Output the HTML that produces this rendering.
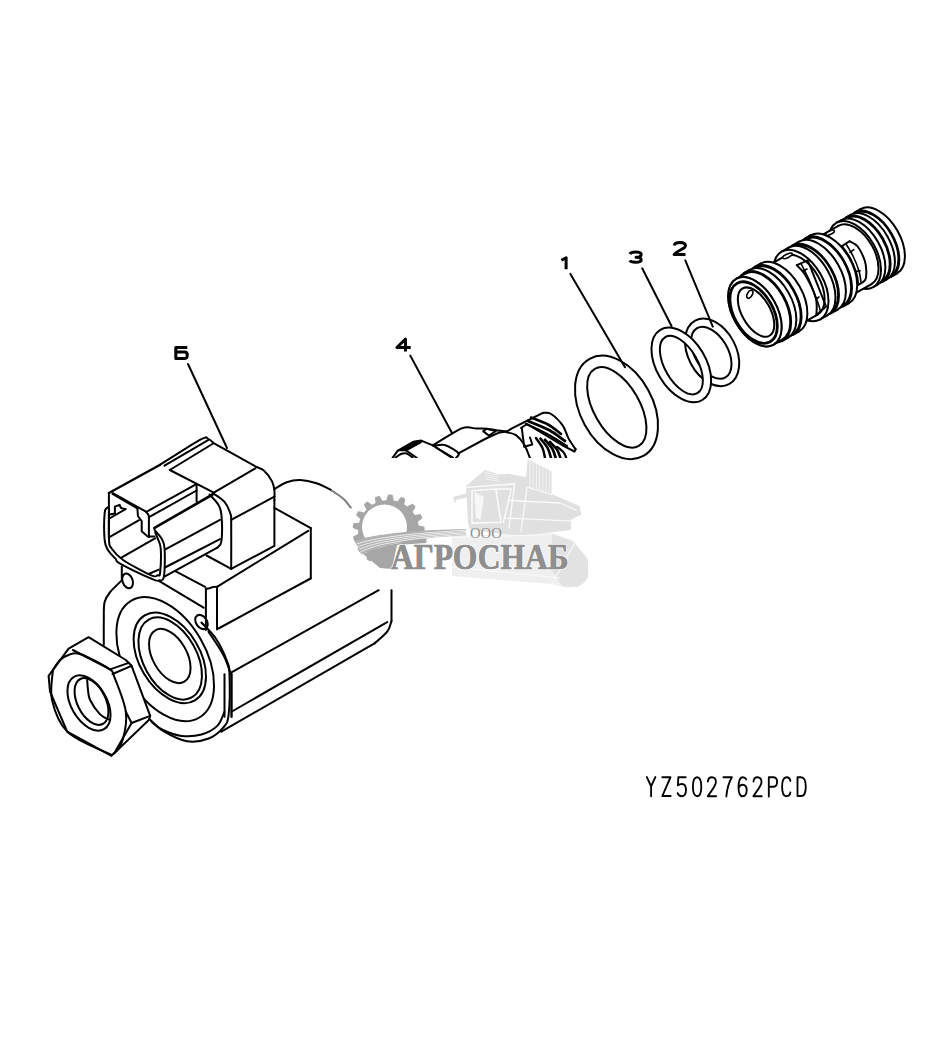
<!DOCTYPE html>
<html><head><meta charset="utf-8"><style>
html,body{margin:0;padding:0;background:#fff;}
svg{display:block;}
</style></head><body>
<svg width="940" height="1049" viewBox="0 0 940 1049" stroke="#000" stroke-linecap="round" stroke-linejoin="round">
<path d="M187.3,347.5 L175.8,347.5 L175.8,358.4 L184.8,358.4 C186.8,358.4 187.3,356.9 187.3,355.239 C187.3,353.27799999999996 186.5,352.078 184.8,352.078 L175.8,352.078" fill="none" stroke-width="3.0" stroke-linecap="butt" stroke-linejoin="round"/>
<path d="M405.45599999999996,351.5 L405.45599999999996,339.0 L396.9,347.5 L410.7,347.5" fill="none" stroke-width="3.0" stroke-linecap="butt" stroke-linejoin="round"/>
<path d="M561.4,260.3 L566.1,257.8 L566.1,269.2" fill="none" stroke-width="3.0" stroke-linecap="butt" stroke-linejoin="round"/>
<path d="M629.9,253.9 C630.9,252.1 632.9,252.1 635.55,252.1 C639.2,252.1 641.2,252.6 641.2,254.4 C641.2,256.65 639.2,257.15 636.05,257.15 C639.2,257.15 641.2,257.75 641.2,259.9 C641.2,261.7 639.2,262.2 635.55,262.2 C632.9,262.2 630.6999999999999,262.2 629.9,260.4" fill="none" stroke-width="3.0" stroke-linecap="butt" stroke-linejoin="round"/>
<path d="M674.2,245.5 C674.7,243.0 677.2,242.5 679.85,242.5 C683.5,242.5 685.5,243.3 685.5,245.7 C685.5,249.0 677.2,250.0 674.2,254.60000000000002 L685.5,254.60000000000002" fill="none" stroke-width="3.0" stroke-linecap="butt" stroke-linejoin="round"/>
<path d="M188.0,364.0 L227.0,448.0" fill="none" stroke-width="2.0" />
<path d="M410.3,355.6 L452.0,433.0" fill="none" stroke-width="2.0" />
<path d="M570.4,273.9 L625.0,367.2" fill="none" stroke-width="2.0" />
<path d="M642.2,268.3 L671.6,326.2" fill="none" stroke-width="2.0" />
<path d="M685.3,260.3 L712.8,326.6" fill="none" stroke-width="2.0" />
<ellipse cx="712.1" cy="352.4" rx="36.0" ry="24.0" transform="rotate(62.0 712.1 352.4)" fill="none" stroke-width="2.0" />
<ellipse cx="711.3" cy="352.8" rx="28.4" ry="16.6" transform="rotate(60 711.3 352.8)" fill="none" stroke-width="2.0"/>
<path d="M702.30,400.00 A40.90,24.68 59.11 1 1 660.30,329.80 A40.90,24.68 59.11 1 1 702.30,400.00 Z M697.37,393.16 A32.31,16.51 60.27 1 1 665.33,337.04 A32.31,16.51 60.27 1 1 697.37,393.16 Z" fill="#fff" fill-rule="evenodd" stroke-width="2.0"/>
<ellipse cx="616.5" cy="407.4" rx="55.5" ry="36.2" transform="rotate(61.1 616.5 407.4)" fill="none" stroke-width="2.0" />
<ellipse cx="616.8" cy="407.4" rx="44.4" ry="22.9" transform="rotate(60.3 616.8 407.4)" fill="none" stroke-width="2.0" />
<ellipse cx="878.80" cy="241.31" rx="37.00" ry="21.46" transform="rotate(60.40 878.80 241.31)" fill="#fff" stroke-width="2.0"/>
<path d="M854.88,212.35 L860.53,209.14 L897.08,273.48 L891.43,276.70 Z" fill="#fff" stroke="none"/>
<path d="M854.88,212.35 L860.53,209.14" fill="none" stroke-width="2.0"/>
<path d="M891.43,276.70 L897.08,273.48" fill="none" stroke-width="2.0"/>
<ellipse cx="873.15" cy="244.52" rx="37.00" ry="21.46" transform="rotate(60.40 873.15 244.52)" fill="#fff" stroke-width="2.0"/>
<ellipse cx="873.15" cy="244.52" rx="35.80" ry="20.76" transform="rotate(60.40 873.15 244.52)" fill="#fff" stroke-width="2.0"/>
<path d="M851.12,215.87 L855.47,213.40 L890.83,275.65 L886.49,278.12 Z" fill="#fff" stroke="none"/>
<path d="M851.12,215.87 L855.47,213.40" fill="none" stroke-width="2.0"/>
<path d="M886.49,278.12 L890.83,275.65" fill="none" stroke-width="2.0"/>
<ellipse cx="868.80" cy="246.99" rx="35.80" ry="20.76" transform="rotate(60.40 868.80 246.99)" fill="#fff" stroke-width="2.0"/>
<ellipse cx="868.80" cy="246.99" rx="37.00" ry="21.46" transform="rotate(60.40 868.80 246.99)" fill="#fff" stroke-width="2.0"/>
<path d="M846.18,217.29 L850.53,214.82 L887.08,279.16 L882.73,281.63 Z" fill="#fff" stroke="none"/>
<path d="M846.18,217.29 L850.53,214.82" fill="none" stroke-width="2.0"/>
<path d="M882.73,281.63 L887.08,279.16" fill="none" stroke-width="2.0"/>
<ellipse cx="864.46" cy="249.46" rx="37.00" ry="21.46" transform="rotate(60.40 864.46 249.46)" fill="#fff" stroke-width="2.0"/>
<ellipse cx="864.46" cy="249.46" rx="35.80" ry="20.76" transform="rotate(60.40 864.46 249.46)" fill="#fff" stroke-width="2.0"/>
<path d="M841.56,221.30 L846.77,218.34 L882.14,280.59 L876.92,283.55 Z" fill="#fff" stroke="none"/>
<path d="M841.56,221.30 L846.77,218.34" fill="none" stroke-width="2.0"/>
<path d="M876.92,283.55 L882.14,280.59" fill="none" stroke-width="2.0"/>
<ellipse cx="859.24" cy="252.43" rx="35.80" ry="20.76" transform="rotate(60.40 859.24 252.43)" fill="#fff" stroke-width="2.0"/>
<ellipse cx="859.24" cy="252.43" rx="37.00" ry="21.46" transform="rotate(60.40 859.24 252.43)" fill="#fff" stroke-width="2.0"/>
<path d="M836.62,222.73 L840.96,220.26 L877.52,284.60 L873.17,287.07 Z" fill="#fff" stroke="none"/>
<path d="M836.62,222.73 L840.96,220.26" fill="none" stroke-width="2.0"/>
<path d="M873.17,287.07 L877.52,284.60" fill="none" stroke-width="2.0"/>
<ellipse cx="854.89" cy="254.90" rx="37.00" ry="21.46" transform="rotate(60.40 854.89 254.90)" fill="#fff" stroke-width="2.0"/>
<ellipse cx="854.89" cy="254.90" rx="33.50" ry="19.43" transform="rotate(60.40 854.89 254.90)" fill="#fff" stroke-width="2.0"/>
<path d="M813.13,240.09 L838.34,225.77 L871.44,284.02 L846.22,298.35 Z" fill="#fff" stroke="none"/>
<path d="M813.13,240.09 L838.34,225.77" fill="none" stroke-width="2.0"/>
<path d="M846.22,298.35 L871.44,284.02" fill="none" stroke-width="2.0"/>
<ellipse cx="829.68" cy="269.22" rx="33.50" ry="19.43" transform="rotate(60.40 829.68 269.22)" fill="#fff" stroke-width="2.0"/>
<ellipse cx="830" cy="232.8" rx="4.8" ry="1.7" transform="rotate(-25 830 232.8)" fill="#fff" stroke-width="1.6"/>
<path d="M842.0,246.0 L849.7,241.2" fill="none" stroke-width="2.0"/>
<path d="M849.7,241.2 C851.0,242.1 855.2,243.3 857.7,246.5 C860.2,249.7 863.3,256.5 864.7,260.5 C866.1,264.5 866.2,267.5 866.3,270.7 C866.4,273.9 866.6,277.3 865.3,279.7 C864.0,282.1 859.5,283.9 858.3,284.8" fill="none" stroke-width="2.0"/>
<path d="M842.0,246.0 C843.3,248.0 847.6,253.4 850.0,258.0 C852.4,262.6 855.0,268.8 856.4,273.3 C857.8,277.8 858.0,282.9 858.3,284.8" fill="none" stroke-width="2.0"/>
<path d="M846.0,244.0 C847.2,246.0 850.8,251.5 853.0,256.0 C855.2,260.5 857.7,266.7 859.0,271.0 C860.3,275.3 860.7,280.2 861.0,282.0" fill="none" stroke-width="1.6"/>
<path d="M850.0,252.3 L853.8,249.7" fill="none" stroke-width="1.6"/>
<path d="M856.4,271.4 L860.2,270.7" fill="none" stroke-width="1.6"/>
<ellipse cx="829.68" cy="269.22" rx="39.00" ry="22.62" transform="rotate(60.40 829.68 269.22)" fill="#fff" stroke-width="2.0"/>
<path d="M805.20,238.27 L810.41,235.31 L848.94,303.13 L843.72,306.09 Z" fill="#fff" stroke="none"/>
<path d="M805.20,238.27 L810.41,235.31" fill="none" stroke-width="2.0"/>
<path d="M843.72,306.09 L848.94,303.13" fill="none" stroke-width="2.0"/>
<ellipse cx="824.46" cy="272.18" rx="39.00" ry="22.62" transform="rotate(60.40 824.46 272.18)" fill="#fff" stroke-width="2.0"/>
<ellipse cx="824.46" cy="272.18" rx="37.80" ry="21.92" transform="rotate(60.40 824.46 272.18)" fill="#fff" stroke-width="2.0"/>
<path d="M799.70,242.78 L805.79,239.32 L843.13,305.05 L837.04,308.51 Z" fill="#fff" stroke="none"/>
<path d="M799.70,242.78 L805.79,239.32" fill="none" stroke-width="2.0"/>
<path d="M837.04,308.51 L843.13,305.05" fill="none" stroke-width="2.0"/>
<ellipse cx="818.37" cy="275.64" rx="37.80" ry="21.92" transform="rotate(60.40 818.37 275.64)" fill="#fff" stroke-width="2.0"/>
<ellipse cx="818.37" cy="275.64" rx="39.00" ry="22.62" transform="rotate(60.40 818.37 275.64)" fill="#fff" stroke-width="2.0"/>
<path d="M792.15,245.68 L799.11,241.73 L837.64,309.55 L830.68,313.50 Z" fill="#fff" stroke="none"/>
<path d="M792.15,245.68 L799.11,241.73" fill="none" stroke-width="2.0"/>
<path d="M830.68,313.50 L837.64,309.55" fill="none" stroke-width="2.0"/>
<ellipse cx="811.42" cy="279.59" rx="39.00" ry="22.62" transform="rotate(60.40 811.42 279.59)" fill="#fff" stroke-width="2.0"/>
<ellipse cx="811.42" cy="279.59" rx="37.80" ry="21.92" transform="rotate(60.40 811.42 279.59)" fill="#fff" stroke-width="2.0"/>
<path d="M789.27,248.70 L792.75,246.73 L830.09,312.46 L826.61,314.44 Z" fill="#fff" stroke="none"/>
<path d="M789.27,248.70 L792.75,246.73" fill="none" stroke-width="2.0"/>
<path d="M826.61,314.44 L830.09,312.46" fill="none" stroke-width="2.0"/>
<ellipse cx="807.94" cy="281.57" rx="37.80" ry="21.92" transform="rotate(60.40 807.94 281.57)" fill="#fff" stroke-width="2.0"/>
<ellipse cx="807.94" cy="281.57" rx="39.00" ry="22.62" transform="rotate(60.40 807.94 281.57)" fill="#fff" stroke-width="2.0"/>
<path d="M781.72,251.61 L788.68,247.66 L827.20,315.48 L820.25,319.43 Z" fill="#fff" stroke="none"/>
<path d="M781.72,251.61 L788.68,247.66" fill="none" stroke-width="2.0"/>
<path d="M820.25,319.43 L827.20,315.48" fill="none" stroke-width="2.0"/>
<ellipse cx="800.98" cy="285.52" rx="39.00" ry="22.62" transform="rotate(60.40 800.98 285.52)" fill="#fff" stroke-width="2.0"/>
<ellipse cx="800.98" cy="285.52" rx="33.50" ry="19.43" transform="rotate(60.40 800.98 285.52)" fill="#fff" stroke-width="2.0"/>
<path d="M763.31,268.40 L784.44,256.39 L817.53,314.65 L796.40,326.65 Z" fill="#fff" stroke="none"/>
<path d="M763.31,268.40 L784.44,256.39" fill="none" stroke-width="2.0"/>
<path d="M796.40,326.65 L817.53,314.65" fill="none" stroke-width="2.0"/>
<ellipse cx="779.85" cy="297.52" rx="33.50" ry="19.43" transform="rotate(60.40 779.85 297.52)" fill="#fff" stroke-width="2.0"/>
<ellipse cx="787.5" cy="255.8" rx="5.2" ry="1.8" transform="rotate(-25 787.5 255.8)" fill="#fff" stroke-width="1.6"/>
<path d="M796.8,265.2 C798.2,266.8 801.8,269.1 805.0,274.6 C808.2,280.1 813.9,291.5 815.8,298.2 C817.7,304.9 816.3,312.2 816.4,315.0" fill="none" stroke-width="2.0"/>
<path d="M796.8,265.2 L807.8,260.4 L826.1,306.5 L816.4,315.0" fill="none" stroke-width="2.0"/>
<path d="M801.0,263.5 C802.5,266.6 807.2,275.4 810.0,282.0 C812.8,288.6 816.2,298.1 818.0,303.0 C819.8,307.9 820.1,310.1 820.5,311.5" fill="none" stroke-width="1.6"/>
<path d="M803.0,271.0 L807.0,269.0" fill="none" stroke-width="1.6"/>
<path d="M816.0,299.0 L819.0,297.0" fill="none" stroke-width="1.6"/>
<ellipse cx="779.85" cy="297.52" rx="39.00" ry="22.62" transform="rotate(60.40 779.85 297.52)" fill="#fff" stroke-width="2.0"/>
<path d="M754.77,266.92 L760.59,263.61 L799.12,331.43 L793.29,334.74 Z" fill="#fff" stroke="none"/>
<path d="M754.77,266.92 L760.59,263.61" fill="none" stroke-width="2.0"/>
<path d="M793.29,334.74 L799.12,331.43" fill="none" stroke-width="2.0"/>
<ellipse cx="774.03" cy="300.83" rx="39.00" ry="22.62" transform="rotate(60.40 774.03 300.83)" fill="#fff" stroke-width="2.0"/>
<ellipse cx="774.03" cy="300.83" rx="37.80" ry="21.92" transform="rotate(60.40 774.03 300.83)" fill="#fff" stroke-width="2.0"/>
<path d="M750.14,270.93 L755.36,267.97 L792.70,333.70 L787.48,336.66 Z" fill="#fff" stroke="none"/>
<path d="M750.14,270.93 L755.36,267.97" fill="none" stroke-width="2.0"/>
<path d="M787.48,336.66 L792.70,333.70" fill="none" stroke-width="2.0"/>
<ellipse cx="768.81" cy="303.80" rx="37.80" ry="21.92" transform="rotate(60.40 768.81 303.80)" fill="#fff" stroke-width="2.0"/>
<ellipse cx="768.81" cy="303.80" rx="39.00" ry="22.62" transform="rotate(60.40 768.81 303.80)" fill="#fff" stroke-width="2.0"/>
<path d="M744.33,272.85 L749.55,269.89 L788.08,337.71 L782.86,340.67 Z" fill="#fff" stroke="none"/>
<path d="M744.33,272.85 L749.55,269.89" fill="none" stroke-width="2.0"/>
<path d="M782.86,340.67 L788.08,337.71" fill="none" stroke-width="2.0"/>
<ellipse cx="763.59" cy="306.76" rx="39.00" ry="22.62" transform="rotate(60.40 763.59 306.76)" fill="#fff" stroke-width="2.0"/>
<ellipse cx="763.59" cy="306.76" rx="37.80" ry="21.92" transform="rotate(60.40 763.59 306.76)" fill="#fff" stroke-width="2.0"/>
<path d="M736.23,278.83 L744.92,273.89 L782.27,339.63 L773.57,344.57 Z" fill="#fff" stroke="none"/>
<path d="M736.23,278.83 L744.92,273.89" fill="none" stroke-width="2.0"/>
<path d="M773.57,344.57 L782.27,339.63" fill="none" stroke-width="2.0"/>
<ellipse cx="754.90" cy="311.70" rx="37.80" ry="21.92" transform="rotate(60.40 754.90 311.70)" fill="#fff" stroke-width="2.0"/>
<ellipse cx="754.90" cy="311.70" rx="37.80" ry="21.92" transform="rotate(60.40 754.90 311.70)" fill="#fff" stroke-width="2.0"/>
<ellipse cx="753.6" cy="312.6" rx="33.6" ry="19.49" transform="rotate(60.40 753.6 312.6)" fill="none" stroke-width="2.8"/>
<ellipse cx="756.05" cy="312.1" rx="27.2" ry="14.14" transform="rotate(60.40 756.05 312.1)" fill="none" stroke-width="2.0"/>
<ellipse cx="749.8" cy="294.3" rx="2.4" ry="4.3" transform="rotate(30 749.8 294.3)" fill="none" stroke-width="1.6"/>
<path d="M160.2,464.7 C166.9,460.5 192.4,443.9 200.4,439.6 C208.4,435.3 206.0,438.4 208.1,438.9 C210.2,439.4 212.3,442.1 213.2,442.8" fill="none" stroke-width="2.0"/>
<path d="M213.2,442.8 L256.6,467.0" fill="none" stroke-width="2.0"/>
<path d="M256.6,467.0 C257.9,467.6 261.8,468.5 264.3,470.9 C266.9,473.2 270.2,477.9 271.9,481.1 C273.6,484.3 274.0,486.9 274.4,490.0 C274.8,493.1 274.4,498.3 274.4,500.0" fill="none" stroke-width="2.0"/>
<path d="M274.4,500.0 L274.4,545.9 L231.2,568.9" fill="none" stroke-width="2.0"/>
<path d="M213.8,492.6 L255.3,468.3" fill="none" stroke-width="2.0"/>
<path d="M231.2,519.8 L274.4,496.7" fill="none" stroke-width="2.0"/>
<path d="M212.6,493.0 C214.6,494.5 221.5,498.4 224.5,501.9 C227.5,505.4 229.3,510.3 230.4,513.8 C231.5,517.3 231.1,513.6 231.2,522.8 C231.3,532.0 231.2,561.2 231.2,568.9" fill="none" stroke-width="2.0"/>
<path d="M164.5,465.7 L208.1,440.2" fill="none" stroke-width="2.0"/>
<path d="M169.8,470.0 L213.2,443.5" fill="none" stroke-width="2.0"/>
<path d="M169.8,470.0 L213.8,492.6" fill="none" stroke-width="2.0"/>
<path d="M108.9,493.0 L160.2,464.7" fill="none" stroke-width="2.4"/>
<path d="M112.8,493.0 L146.0,511.7" fill="none" stroke-width="2.0"/>
<path d="M146.0,511.7 C146.4,512.3 148.0,514.1 148.5,515.1 C149.0,516.1 148.8,517.3 148.9,517.7" fill="none" stroke-width="2.0"/>
<path d="M148.9,517.7 L148.9,537.2" fill="none" stroke-width="2.0"/>
<path d="M146.4,511.8 L196.4,484.2" fill="none" stroke-width="2.0"/>
<path d="M149.0,517.2 L196.6,490.5" fill="none" stroke-width="2.0"/>
<path d="M196.6,484.9 L196.6,501.5" fill="none" stroke-width="2.0"/>
<path d="M108.9,493.0 L108.9,537.2" fill="none" stroke-width="2.0"/>
<path d="M112.5,494.0 L137.4,508.3 L137.9,516.0 L141.7,521.0 L141.7,531.3 L147.7,536.4 L154.5,536.4" fill="none" stroke-width="2.0"/>
<path d="M109.5,514.5 L114.9,513.5 L114.9,506.6 L119.6,504.9 L121.0,508.0 L125.5,509.1" fill="none" stroke-width="2.0"/>
<path d="M109.4,518.5 L125.5,509.1" fill="none" stroke-width="2.0"/>
<path d="M109.4,537.2 L139.1,520.2" fill="none" stroke-width="2.0"/>
<path d="M107.7,507.4 C107.2,508.3 105.2,507.2 104.7,512.6 C104.2,518.0 104.1,533.4 104.6,539.6 C105.1,545.8 106.0,546.6 107.8,549.8 C109.6,553.0 113.3,556.4 115.4,558.7 C117.5,561.0 114.3,560.4 120.5,563.8 C126.7,567.2 146.0,576.4 152.4,579.2 C158.8,582.0 156.9,580.8 158.8,580.4 C160.7,580.0 162.9,581.9 163.9,576.6 C164.9,571.3 165.0,554.9 164.6,548.5 C164.2,542.1 163.0,541.3 161.4,538.3 C159.8,535.3 156.2,532.3 155.0,530.6 C153.8,528.9 154.6,528.4 154.5,527.9" fill="none" stroke-width="2.0"/>
<path d="M109.0,508.9 C109.0,514.0 108.6,533.0 109.0,539.6 C109.4,546.2 109.2,545.1 111.6,548.5 C113.9,551.9 116.5,555.5 123.1,560.0 C129.7,564.5 145.4,572.8 151.2,575.3 C156.9,577.8 156.1,575.7 157.6,575.3 C159.1,574.9 159.6,577.3 160.1,572.8 C160.6,568.3 161.1,554.2 160.7,548.5 C160.3,542.8 158.5,540.9 157.6,538.3 C156.7,535.6 155.7,533.5 155.3,532.6" fill="none" stroke-width="2.0"/>
<path d="M121.8,557.4 L155.0,538.3" fill="none" stroke-width="2.0"/>
<path d="M148.6,574.0 L158.8,569.6" fill="none" stroke-width="2.0"/>
<path d="M154.5,527.9 L212.6,494.5" fill="none" stroke-width="2.6"/>
<path d="M164.9,549.6 L220.0,519.8" fill="none" stroke-width="2.0"/>
<path d="M164.9,567.5 L220.0,539.2" fill="none" stroke-width="2.0"/>
<path d="M164.9,576.4 L217.8,547.3" fill="none" stroke-width="2.0"/>
<path d="M209.6,494.5 C211.1,496.2 216.5,501.4 218.5,504.9 C220.5,508.4 221.0,509.3 221.5,515.3 C222.0,521.2 222.1,535.3 221.5,540.6 C220.9,545.9 218.4,546.2 217.8,547.3" fill="none" stroke-width="2.0"/>
<path d="M206.6,555.5 L231.2,568.9" fill="none" stroke-width="2.0"/>
<path d="M175.3,571.2 L205.1,586.8" fill="none" stroke-width="2.0"/>
<path d="M158.9,580.9 L203.6,607.7" fill="none" stroke-width="2.0"/>
<path d="M205.9,588.3 L205.9,630.0" fill="none" stroke-width="2.0"/>
<path d="M205.9,589.0 C206.5,588.9 208.4,588.6 209.6,588.3 C210.8,588.0 211.8,587.2 213.0,587.0 C214.2,586.8 216.3,586.8 217.0,586.8" fill="none" stroke-width="2.0"/>
<path d="M217.0,586.8 L308.2,530.8" fill="none" stroke-width="2.0"/>
<path d="M217.0,588.0 L217.0,629.6" fill="none" stroke-width="2.0"/>
<path d="M218.5,628.5 L310.6,578.5" fill="none" stroke-width="2.0"/>
<path d="M310.8,528.1 L310.8,578.5" fill="none" stroke-width="2.0"/>
<path d="M274.4,507.9 L310.8,528.1" fill="none" stroke-width="2.0"/>
<path d="M274.5,489.0 C276.6,487.9 282.5,483.8 286.8,482.3 C291.1,480.8 295.2,479.9 300.2,480.1 C305.1,480.3 311.2,481.6 316.5,483.3 C321.8,485.0 329.4,489.3 332.0,490.5" fill="none" stroke-width="2.0"/>
<path d="M231.9,672.1 L378.7,590.2" fill="none" stroke-width="2.0"/>
<path d="M391.5,590.2 L391.5,621.0" fill="none" stroke-width="2.0"/>
<path d="M391.5,621.0 C390.8,622.8 390.0,628.0 387.2,631.7 C384.4,635.4 376.6,641.5 374.5,643.4" fill="none" stroke-width="2.0"/>
<path d="M374.5,643.4 L221.3,731.7" fill="none" stroke-width="2.0"/>
<path d="M231.9,711.5 L387.2,622.1" fill="none" stroke-width="2.0"/>
<path d="M224.5,674.3 L224.5,716.8" fill="none" stroke-width="2.0"/>
<path d="M231.5,674.3 L231.5,716.8" fill="none" stroke-width="2.4"/>
<path d="M201.4,622.5 C203.8,625.2 211.8,632.4 216.0,638.8 C220.2,645.1 224.6,654.6 226.8,660.6 C229.1,666.6 229.2,666.0 229.5,675.0 C229.8,684.0 229.7,706.1 228.6,714.9 C227.5,723.7 226.5,723.7 223.2,727.6 C219.9,731.5 214.7,736.2 208.7,738.5 C202.7,740.8 194.6,742.4 187.0,741.2 C179.4,740.0 169.8,735.0 163.4,731.2 C157.1,727.4 151.3,720.7 148.9,718.6" fill="none" stroke-width="2.0"/>
<path d="M208.5,631.7 C211.0,635.6 219.7,647.9 223.4,655.0 C227.1,662.1 229.7,671.1 230.9,674.3" fill="none" stroke-width="2.0"/>
<path d="M224.4,712.0 C223.2,714.3 221.1,722.1 217.3,725.9 C213.5,729.6 207.5,732.8 201.5,734.5 C195.5,736.2 187.9,736.6 181.5,735.9 C175.1,735.1 168.0,732.4 163.0,730.0 C158.0,727.6 153.3,723.0 151.4,721.6" fill="none" stroke-width="2.0"/>
<path d="M121.8,580.4 C119.9,582.3 113.2,588.3 110.3,591.9 C107.4,595.5 105.7,597.4 104.6,602.1 C103.5,606.8 103.9,612.9 103.8,620.0 C103.7,627.1 103.8,640.8 103.8,645.0" fill="none" stroke-width="2.0"/>
<path d="M121.8,566.4 L121.8,579.2" fill="none" stroke-width="2.0"/>
<ellipse cx="127.6" cy="580.9" rx="5.0" ry="7.6" transform="rotate(-20.0 127.6 580.9)" fill="none" stroke-width="2.0"/>
<ellipse cx="201.5" cy="622.0" rx="5.4" ry="7.8" transform="rotate(-35.0 201.5 622.0)" fill="none" stroke-width="2.0"/>
<ellipse cx="165.2" cy="659.2" rx="67.6" ry="40.7" transform="rotate(60.0 165.2 659.2)" fill="none" stroke-width="2.0"/>
<ellipse cx="169.8" cy="657.9" rx="49.3" ry="30.3" transform="rotate(59.4 169.8 657.9)" fill="none" stroke-width="2.0"/>
<ellipse cx="170.2" cy="658.5" rx="44.5" ry="26.7" transform="rotate(61.1 170.2 658.5)" fill="none" stroke-width="2.0"/>
<ellipse cx="169.8" cy="656.0" rx="29.5" ry="17.1" transform="rotate(60.7 169.8 656.0)" fill="none" stroke-width="2.0"/>
<path d="M48.6,675.8 L68.6,648.6 L88.6,637.2 L125.8,660.0 L131.6,665.8 L150.2,715.9 L148.8,720.0 L111.5,755.9 L67.2,731.6 L50.0,691.5 L48.6,675.8" fill="#fff" stroke-width="2.0"/>
<path d="M52.9,670.0 C54.1,668.3 57.4,662.5 60.0,660.0 C62.6,657.5 65.3,656.0 68.6,655.0 C71.9,654.0 73.3,651.7 80.0,654.0 C86.7,656.3 103.0,664.7 108.7,668.6 C114.4,672.5 111.6,670.0 114.4,677.2 C117.2,684.4 124.4,701.4 125.8,711.6 C127.2,721.9 124.9,731.8 123.0,738.7 C121.1,745.6 117.4,750.8 114.4,753.0 C111.4,755.2 112.9,755.6 105.0,752.0 C97.1,748.4 76.0,740.3 67.2,731.6 C58.4,722.9 54.4,710.3 52.0,700.0 C49.6,689.7 52.8,675.0 52.9,670.0" fill="none" stroke-width="2.0"/>
<path d="M72.9,650.0 L110.1,669.4 L128.7,662.9" fill="none" stroke-width="2.0"/>
<path d="M112.5,674.0 L131.6,665.8" fill="none" stroke-width="2.0"/>
<path d="M125.8,711.6 L131.6,723.0 L150.2,715.9" fill="none" stroke-width="2.0"/>
<path d="M131.6,723.0 L114.4,753.0" fill="none" stroke-width="2.0"/>
<ellipse cx="89.0" cy="703.0" rx="30.2" ry="17.8" transform="rotate(60.1 89.0 703.0)" fill="none" stroke-width="2.0"/>
<ellipse cx="91.5" cy="701.5" rx="25.1" ry="14.2" transform="rotate(63.6 91.5 701.5)" fill="none" stroke-width="2.0"/>
<path d="M87.2,680.0 C87.3,681.7 87.5,686.7 88.0,690.0 C88.5,693.3 88.1,695.9 90.1,700.0 C92.1,704.1 96.8,711.0 100.1,714.4 C103.4,717.8 108.4,719.1 110.1,720.1" fill="none" stroke-width="2.0"/>
<path d="M392.4,458.0 L397.8,450.7 L413.7,441.7 L421.2,440.6 L432.9,445.4 L452.0,458.0" fill="none" stroke-width="2.0"/>
<path d="M397.8,450.7 L413.7,441.7 L421.2,440.6 L421.2,442.5 L406.3,450.7 Z" fill="#000" stroke-width="1.2"/>
<path d="M406.3,450.7 L417.0,458.0" fill="none" stroke-width="2.0"/>
<path d="M395.0,458.0 C396.0,457.3 399.1,454.8 401.0,454.0 C402.9,453.2 404.4,452.8 406.3,453.4 C408.2,454.0 411.6,456.8 412.7,457.5" fill="none" stroke-width="2.0"/>
<path d="M432.9,445.4 C436.1,443.4 447.2,436.5 452.0,433.7 C456.8,430.9 458.9,429.5 461.6,428.4 C464.3,427.3 465.5,427.3 468.0,427.3 C470.5,427.3 473.4,428.3 476.5,428.5 C479.6,428.7 483.1,428.4 486.7,428.7 C490.3,429.0 494.7,430.0 498.0,430.5 C501.3,431.0 505.2,431.4 506.6,431.6" fill="none" stroke-width="2.0"/>
<path d="M506.6,431.6 L512.4,428.1 L527.7,420.5 L542.9,412.9" fill="none" stroke-width="2.0"/>
<path d="M542.9,412.9 C544.3,413.1 547.8,411.9 551.1,414.0 C554.4,416.1 559.9,421.6 562.8,425.7 C565.7,429.8 566.5,434.7 568.6,438.6 C570.7,442.5 574.4,447.4 575.6,449.2" fill="none" stroke-width="2.0"/>
<path d="M575.6,449.2 L574.5,451.5 L563.9,446.2 L527.0,424.0 L521.0,428.0" fill="none" stroke-width="2.0"/>
<path d="M434.0,446.0 C435.8,445.8 440.5,443.9 444.6,445.0 C448.7,446.1 456.5,450.7 458.4,452.9 C460.3,455.1 456.4,457.1 456.0,458.0" fill="none" stroke-width="2.0"/>
<path d="M458.4,453.4 L485.0,439.0 L498.4,432.8 L506.6,431.6" fill="none" stroke-width="2.0"/>
<path d="M436.0,447.5 L453.0,457.5" fill="none" stroke-width="2.0"/>
<path d="M483.2,431.1 L486.7,428.7 L496.0,431.0 L489.0,435.7 Z" fill="none" stroke-width="2.0"/>
<path d="M506.6,432.2 C508.2,432.7 513.1,433.1 516.0,435.1 C518.9,437.2 521.9,440.7 524.2,444.5 C526.5,448.3 529.0,455.8 530.0,458.0" fill="none" stroke-width="2.0"/>
<path d="M531.0,417.5 C533.8,418.7 543.0,421.8 548.0,424.5 C553.0,427.2 558.8,432.4 561.0,434.0" fill="none" stroke-width="2.6"/>
<path d="M528.0,421.0 C531.5,422.5 542.8,426.7 549.0,430.0 C555.2,433.3 562.3,439.2 565.0,441.0" fill="none" stroke-width="2.8"/>
<path d="M526.0,424.0 C529.7,425.8 541.2,430.8 548.0,434.5 C554.8,438.2 563.8,444.1 567.0,446.0" fill="none" stroke-width="2.2"/>
<path d="M536.0,438.0 C537.1,439.7 541.0,444.7 542.5,448.0 C544.0,451.3 544.6,456.3 545.0,458.0" fill="none" stroke-width="2.4"/>
<path d="M540.5,438.6 C541.7,440.2 546.0,445.1 547.8,448.3 C549.5,451.5 550.5,456.4 551.0,458.0" fill="none" stroke-width="2.6"/>
<path d="M545.0,439.8 C546.2,441.3 550.6,445.9 552.4,448.9 C554.1,451.9 555.1,456.5 555.7,458.0" fill="none" stroke-width="2.8"/>
<path d="M550.0,442.0 C551.2,443.3 555.5,447.3 557.2,450.0 C558.9,452.7 559.9,456.7 560.4,458.0" fill="none" stroke-width="2.6"/>
<path d="M557.0,446.8 C558.1,447.7 562.1,450.5 563.6,452.4 C565.2,454.3 565.9,457.1 566.3,458.0" fill="none" stroke-width="2.2"/>
<path d="M521.8,428.1 L524.2,446.8 L532.3,444.5 L530.0,437.5" fill="none" stroke-width="2.0"/>
<rect x="332" y="458" width="268" height="131" fill="#fff" stroke="none"/>
<path stroke="#808080" d="M331.5,490.5 C333.5,491.9 340.1,495.8 343.3,498.7 C346.5,501.6 349.6,506.1 350.8,507.6" fill="none" stroke-width="2.0"/>
<path d="M452.0,536.0 L552.0,533.0 L572.0,540.0 L586.0,556.0 L589.0,572.0 L584.0,584.0 L568.0,588.0 L552.0,584.0 L452.0,576.0 Z" fill="#efefef" stroke="none"/>
<path d="M552.0,534.0 L574.0,542.0 L588.0,560.0 L588.0,578.0 L578.0,587.0 L562.0,586.0 L552.0,570.0 Z" fill="#e2e2e2" stroke="none"/>
<path d="M466.0,486.0 L485.0,470.0 L499.0,474.6 L508.0,473.7 L526.0,477.0 L527.7,459.3 L551.5,471.2 L551.5,494.0 L567.7,501.0 L579.6,506.0 L581.3,514.6 L577.9,516.3 L571.0,519.7 L571.0,530.0 L520.0,536.0 L470.0,530.0 L468.0,523.0 Z" fill="#e0e0e0" stroke="none"/>
<path d="M453.0,497.0 L468.0,493.0 L469.0,497.0 L456.0,500.0 L455.0,504.0 Z" fill="#e0e0e0" stroke="none"/>
<path d="M530.0,460.5 L530.0,488.0" stroke="#fafafa" stroke-width="0.7" fill="none"/>
<path d="M533.2,462.1 L533.2,488.9" stroke="#fafafa" stroke-width="0.7" fill="none"/>
<path d="M536.4,463.7 L536.4,489.8" stroke="#fafafa" stroke-width="0.7" fill="none"/>
<path d="M539.6,465.3 L539.6,490.7" stroke="#fafafa" stroke-width="0.7" fill="none"/>
<path d="M542.8,466.9 L542.8,491.6" stroke="#fafafa" stroke-width="0.7" fill="none"/>
<path d="M546.0,468.5 L546.0,492.5" stroke="#fafafa" stroke-width="0.7" fill="none"/>
<path d="M549.2,470.1 L549.2,493.4" stroke="#fafafa" stroke-width="0.7" fill="none"/>
<path d="M485.5,472.0 L498.0,475.5" stroke="#fafafa" stroke-width="0.6" fill="none"/>
<path d="M485.5,474.4 L498.0,477.3" stroke="#fafafa" stroke-width="0.6" fill="none"/>
<path d="M485.5,476.8 L498.0,479.1" stroke="#fafafa" stroke-width="0.6" fill="none"/>
<path d="M485.5,479.2 L498.0,480.9" stroke="#fafafa" stroke-width="0.6" fill="none"/>
<path d="M466.9,487.3 L514.6,483.9" stroke="#fafafa" stroke-width="1.6" fill="none"/>
<path d="M472.0,490.7 L495.8,489.0 L501.0,522.2 L472.0,523.1 L472.0,490.7" stroke="#fafafa" stroke-width="1.6" fill="none"/>
<path d="M496.7,489.0 L511.2,489.0 L503.5,522.2" stroke="#fafafa" stroke-width="1.4" fill="none"/>
<path d="M474.3,492.0 L476.0,518.0 L480.5,519.7 L484.0,497.0 Z" fill="#f7f7f7" stroke="none"/>
<path d="M514.6,484.0 L509.0,528.0" stroke="#fafafa" stroke-width="1.4" fill="none"/>
<path d="M527.7,487.3 L551.5,494.5" stroke="#fafafa" stroke-width="1.2" fill="none"/>
<path d="M510.0,500.5 L560.0,503.0 L576.0,510.0" stroke="#fafafa" stroke-width="1.3" fill="none"/>
<path d="M505.0,518.0 L571.0,521.0" stroke="#fafafa" stroke-width="1.2" fill="none"/>
<path d="M527.0,487.0 L521.0,532.0" stroke="#fafafa" stroke-width="1.2" fill="none"/>
<path d="M452.0,537.5 L552.0,534.5" stroke="#fafafa" stroke-width="1.2" fill="none"/>
<path d="M552.0,584.0 L574.0,544.0" stroke="#fafafa" stroke-width="1.2" fill="none"/>
<path d="M452.0,567.0 L560.0,578.0" stroke="#fafafa" stroke-width="1.0" fill="none"/>
<path d="M424.6,530.6 L424.6,530.9 L424.6,531.2 L423.8,531.5 L423.0,531.8 L422.2,532.1 L421.3,532.3 L420.5,532.6 L419.7,532.8 L419.0,533.0 L419.0,533.3 L419.0,533.5 L418.9,533.8 L418.9,534.1 L418.9,534.3 L418.8,534.6 L418.8,534.8 L418.8,535.1 L418.7,535.4 L418.7,535.6 L418.6,535.9 L418.6,536.2 L418.5,536.4 L418.5,536.7 L419.1,537.1 L419.8,537.5 L420.5,538.0 L421.3,538.4 L422.0,538.9 L422.7,539.4 L423.4,539.9 L423.3,540.2 L423.2,540.5 L423.1,540.8 L423.0,541.1 L422.9,541.4 L422.8,541.7 L422.7,542.0 L422.6,542.3 L422.5,542.6 L422.4,542.9 L422.3,543.2 L422.2,543.5 L422.1,543.8 L422.0,544.1 L421.4,544.2 L420.5,544.2 L419.7,544.1 L418.8,544.0 L417.9,544.0 L417.1,543.9 L416.2,543.8 L416.0,544.0 L415.9,544.2 L415.8,544.4 L415.7,544.7 L415.5,544.9 L415.4,545.2 L415.3,545.4 L415.1,545.6 L415.0,545.9 L414.9,546.1 L414.7,546.3 L414.6,546.5 L414.5,546.8 L414.3,547.0 L414.5,547.4 L415.0,548.1 L415.5,548.8 L416.0,549.5 L416.5,550.2 L417.0,550.9 L417.5,551.6 L417.5,552.0 L417.4,552.3 L417.2,552.5 L417.0,552.8 L416.8,553.0 L416.6,553.3 L416.4,553.5 L416.2,553.7 L416.0,554.0 L415.8,554.2 L415.6,554.5 L415.4,554.7 L415.1,554.9 L414.9,555.2 L414.6,555.2 L413.8,554.9 L413.0,554.5 L412.2,554.2 L411.4,553.8 L410.6,553.4 L409.9,553.0 L409.4,552.9 L409.2,553.1 L409.0,553.3 L408.8,553.4 L408.6,553.6 L408.4,553.8 L408.2,554.0 L408.0,554.1 L407.8,554.3 L407.6,554.5 L407.4,554.6 L407.2,554.8 L407.0,555.0 L406.7,555.1 L406.6,555.3 L406.8,556.2 L407.1,557.0 L407.3,557.8 L407.5,558.6 L407.7,559.5 L407.9,560.3 L407.9,561.0 L407.7,561.1 L407.4,561.3 L407.1,561.5 L406.9,561.6 L406.6,561.8 L406.3,561.9 L406.1,562.1 L405.8,562.2 L405.5,562.4 L405.2,562.5 L404.9,562.7 L404.7,562.8 L404.4,563.0 L404.1,563.1 L403.5,562.6 L402.9,561.9 L402.3,561.3 L401.7,560.7 L401.1,560.1 L400.5,559.4 L400.0,558.9 L399.8,559.0 L399.5,559.1 L399.3,559.2 L399.0,559.3 L398.8,559.4 L398.5,559.4 L398.3,559.5 L398.0,559.6 L397.8,559.7 L397.5,559.8 L397.3,559.8 L397.0,559.9 L396.8,560.0 L396.5,560.1 L396.4,560.7 L396.3,561.6 L396.2,562.4 L396.1,563.3 L396.0,564.1 L395.9,565.0 L395.8,565.8 L395.5,565.9 L395.2,566.0 L394.9,566.1 L394.5,566.1 L394.2,566.2 L393.9,566.2 L393.6,566.2 L393.3,566.3 L393.0,566.3 L392.7,566.4 L392.4,566.4 L392.1,566.4 L391.7,566.5 L391.4,566.5 L391.1,566.1 L390.7,565.3 L390.4,564.5 L390.0,563.7 L389.7,562.9 L389.4,562.1 L389.1,561.3 L388.9,561.1 L388.6,561.1 L388.3,561.1 L388.1,561.1 L387.8,561.1 L387.5,561.1 L387.3,561.1 L387.0,561.1 L386.7,561.0 L386.5,561.0 L386.2,561.0 L385.9,561.0 L385.7,561.0 L385.4,560.9 L385.1,561.2 L384.7,562.0 L384.4,562.8 L384.0,563.5 L383.6,564.3 L383.1,565.0 L382.7,565.8 L382.3,566.1 L382.0,566.0 L381.7,565.9 L381.4,565.9 L381.1,565.8 L380.8,565.7 L380.5,565.7 L380.2,565.6 L379.9,565.5 L379.6,565.5 L379.3,565.4 L379.0,565.3 L378.7,565.2 L378.4,565.1 L378.1,564.9 L378.1,564.0 L378.0,563.1 L378.0,562.3 L378.0,561.4 L378.0,560.5 L378.0,559.7 L377.9,559.2 L377.7,559.1 L377.4,559.0 L377.2,558.9 L376.9,558.8 L376.7,558.7 L376.4,558.6 L376.2,558.5 L376.0,558.4 L375.7,558.2 L375.5,558.1 L375.2,558.0 L375.0,557.9 L374.8,557.8 L374.5,557.7 L373.9,558.3 L373.3,558.9 L372.6,559.4 L372.0,560.0 L371.3,560.6 L370.6,561.1 L370.1,561.5 L369.8,561.3 L369.5,561.1 L369.3,561.0 L369.0,560.8 L368.7,560.6 L368.5,560.4 L368.2,560.3 L368.0,560.1 L367.7,559.9 L367.4,559.7 L367.2,559.5 L366.9,559.4 L366.7,559.2 L366.4,559.0 L366.6,558.2 L366.9,557.4 L367.2,556.6 L367.5,555.8 L367.8,555.0 L368.1,554.2 L368.4,553.4 L368.2,553.3 L368.0,553.1 L367.8,552.9 L367.6,552.7 L367.4,552.5 L367.2,552.4 L367.0,552.2 L366.8,552.0 L366.7,551.8 L366.5,551.6 L366.3,551.4 L366.1,551.2 L365.9,551.0 L365.8,550.8 L365.2,551.0 L364.4,551.3 L363.6,551.6 L362.8,551.9 L361.9,552.2 L361.1,552.5 L360.3,552.7 L360.0,552.5 L359.8,552.3 L359.7,552.0 L359.5,551.8 L359.3,551.5 L359.1,551.2 L358.9,551.0 L358.8,550.7 L358.6,550.5 L358.4,550.2 L358.2,549.9 L358.1,549.7 L357.9,549.4 L357.7,549.1 L357.9,548.7 L358.5,548.0 L359.0,547.3 L359.6,546.7 L360.2,546.0 L360.8,545.4 L361.4,544.8 L361.4,544.4 L361.3,544.2 L361.2,544.0 L361.1,543.7 L361.0,543.5 L360.8,543.2 L360.7,543.0 L360.6,542.8 L360.5,542.5 L360.4,542.3 L360.3,542.0 L360.2,541.8 L360.1,541.5 L360.0,541.3 L359.7,541.1 L358.8,541.1 L358.0,541.1 L357.1,541.1 L356.3,541.1 L355.4,541.1 L354.5,541.0 L354.1,540.8 L354.0,540.5 L353.9,540.2 L353.8,539.9 L353.7,539.6 L353.7,539.3 L353.6,539.0 L353.5,538.7 L353.5,538.4 L353.4,538.1 L353.3,537.8 L353.3,537.5 L353.2,537.2 L353.1,536.9 L353.2,536.5 L354.0,536.1 L354.7,535.7 L355.5,535.3 L356.2,534.9 L357.0,534.5 L357.8,534.1 L358.3,533.8 L358.2,533.5 L358.2,533.3 L358.2,533.0 L358.2,532.7 L358.2,532.5 L358.1,532.2 L358.1,531.9 L358.1,531.7 L358.1,531.4 L358.1,531.1 L358.1,530.9 L358.1,530.6 L358.1,530.3 L358.1,530.1 L357.3,529.8 L356.5,529.5 L355.7,529.2 L354.9,528.8 L354.1,528.5 L353.3,528.1 L352.7,527.8 L352.7,527.5 L352.8,527.1 L352.8,526.8 L352.8,526.5 L352.9,526.2 L352.9,525.9 L353.0,525.6 L353.0,525.3 L353.0,525.0 L353.1,524.7 L353.1,524.3 L353.2,524.0 L353.3,523.7 L353.3,523.4 L354.0,523.3 L354.9,523.1 L355.7,523.0 L356.6,522.9 L357.4,522.8 L358.3,522.8 L359.1,522.7 L359.2,522.4 L359.3,522.2 L359.4,521.9 L359.4,521.7 L359.5,521.4 L359.6,521.2 L359.7,520.9 L359.8,520.7 L359.8,520.4 L359.9,520.2 L360.0,519.9 L360.1,519.7 L360.2,519.4 L360.3,519.2 L360.0,518.7 L359.3,518.2 L358.7,517.6 L358.1,517.0 L357.4,516.4 L356.8,515.8 L356.2,515.2 L356.2,514.8 L356.4,514.5 L356.5,514.3 L356.7,514.0 L356.8,513.7 L357.0,513.4 L357.1,513.1 L357.3,512.9 L357.4,512.6 L357.6,512.3 L357.7,512.1 L357.9,511.8 L358.1,511.5 L358.2,511.3 L358.7,511.2 L359.6,511.4 L360.4,511.6 L361.2,511.8 L362.1,512.0 L362.9,512.3 L363.7,512.5 L364.1,512.5 L364.2,512.2 L364.4,512.0 L364.6,511.8 L364.7,511.6 L364.9,511.4 L365.1,511.2 L365.2,511.0 L365.4,510.8 L365.6,510.6 L365.8,510.4 L365.9,510.2 L366.1,510.0 L366.3,509.8 L366.3,509.5 L365.9,508.7 L365.5,507.9 L365.2,507.2 L364.8,506.4 L364.4,505.6 L364.1,504.8 L364.0,504.3 L364.3,504.1 L364.5,503.8 L364.7,503.6 L365.0,503.4 L365.2,503.2 L365.5,503.0 L365.7,502.8 L365.9,502.6 L366.2,502.4 L366.4,502.2 L366.7,502.0 L366.9,501.8 L367.2,501.7 L367.5,501.5 L368.2,502.0 L368.9,502.5 L369.6,503.0 L370.3,503.5 L371.0,504.0 L371.7,504.6 L372.2,504.9 L372.4,504.7 L372.7,504.6 L372.9,504.5 L373.1,504.3 L373.4,504.2 L373.6,504.1 L373.8,503.9 L374.0,503.8 L374.3,503.7 L374.5,503.5 L374.8,503.4 L375.0,503.3 L375.2,503.2 L375.5,503.1 L375.4,502.3 L375.3,501.4 L375.2,500.6 L375.2,499.7 L375.1,498.9 L375.1,498.0 L375.1,497.2 L375.4,497.1 L375.7,497.0 L376.0,496.9 L376.3,496.8 L376.6,496.7 L376.9,496.6 L377.2,496.5 L377.5,496.4 L377.8,496.3 L378.1,496.2 L378.4,496.1 L378.7,496.0 L379.0,495.9 L379.3,495.8 L379.7,496.3 L380.2,497.0 L380.7,497.8 L381.2,498.5 L381.6,499.2 L382.1,499.9 L382.5,500.7 L382.8,500.7 L383.0,500.6 L383.3,500.6 L383.6,500.5 L383.8,500.5 L384.1,500.4 L384.4,500.4 L384.6,500.4 L384.9,500.3 L385.1,500.3 L385.4,500.3 L385.7,500.2 L385.9,500.2 L386.2,500.2 L386.4,499.7 L386.7,498.9 L386.9,498.1 L387.1,497.2 L387.4,496.4 L387.7,495.6 L388.0,494.8 L388.3,494.6 L388.6,494.6 L388.9,494.6 L389.2,494.6 L389.5,494.6 L389.9,494.6 L390.2,494.6 L390.5,494.6 L390.8,494.7 L391.1,494.7 L391.4,494.7 L391.7,494.7 L392.1,494.8 L392.4,494.8 L392.6,495.1 L392.8,496.0 L393.0,496.8 L393.2,497.7 L393.4,498.5 L393.5,499.4 L393.7,500.2 L393.9,500.6 L394.2,500.6 L394.4,500.7 L394.7,500.7 L394.9,500.8 L395.2,500.8 L395.5,500.9 L395.7,500.9 L396.0,501.0 L396.2,501.1 L396.5,501.1 L396.8,501.2 L397.0,501.3 L397.3,501.4 L397.6,501.3 L398.1,500.6 L398.6,499.9 L399.1,499.2 L399.6,498.5 L400.2,497.9 L400.8,497.2 L401.2,496.9 L401.5,497.0 L401.8,497.1 L402.1,497.2 L402.4,497.3 L402.7,497.5 L403.0,497.6 L403.2,497.7 L403.5,497.8 L403.8,498.0 L404.1,498.1 L404.4,498.2 L404.7,498.4 L404.9,498.5 L405.2,498.7 L405.1,499.6 L405.0,500.4 L404.9,501.3 L404.7,502.1 L404.6,503.0 L404.4,503.8 L404.3,504.5 L404.5,504.6 L404.8,504.7 L405.0,504.9 L405.2,505.0 L405.4,505.2 L405.7,505.3 L405.9,505.5 L406.1,505.6 L406.3,505.8 L406.5,505.9 L406.7,506.1 L407.0,506.2 L407.2,506.4 L407.4,506.6 L408.0,506.2 L408.7,505.7 L409.5,505.3 L410.2,504.8 L411.0,504.4 L411.7,504.0 L412.5,503.6 L412.7,503.8 L412.9,504.1 L413.2,504.3 L413.4,504.5 L413.6,504.7 L413.8,504.9 L414.1,505.1 L414.3,505.4 L414.5,505.6 L414.7,505.8 L414.9,506.0 L415.1,506.3 L415.4,506.5 L415.6,506.7 L415.4,507.3 L414.9,508.1 L414.5,508.9 L414.1,509.6 L413.6,510.3 L413.2,511.1 L412.7,511.8 L412.8,512.0 L413.0,512.2 L413.1,512.5 L413.3,512.7 L413.4,512.9 L413.6,513.1 L413.7,513.3 L413.9,513.5 L414.0,513.8 L414.2,514.0 L414.3,514.2 L414.5,514.4 L414.6,514.7 L414.7,514.9 L415.2,514.9 L416.1,514.7 L416.9,514.6 L417.8,514.4 L418.6,514.3 L419.5,514.2 L420.3,514.1 L420.7,514.3 L420.8,514.5 L421.0,514.8 L421.1,515.1 L421.2,515.4 L421.4,515.7 L421.5,516.0 L421.6,516.2 L421.7,516.5 L421.9,516.8 L422.0,517.1 L422.1,517.4 L422.2,517.7 L422.3,518.0 L422.2,518.4 L421.5,518.9 L420.9,519.5 L420.2,520.0 L419.5,520.6 L418.8,521.1 L418.1,521.6 L417.8,521.9 L417.9,522.2 L418.0,522.4 L418.1,522.7 L418.1,523.0 L418.2,523.2 L418.3,523.5 L418.3,523.7 L418.4,524.0 L418.4,524.3 L418.5,524.5 L418.5,524.8 L418.6,525.0 L418.6,525.3 L418.8,525.5 L419.6,525.7 L420.5,525.8 L421.3,526.0 L422.2,526.2 L423.0,526.4 L423.9,526.6 L424.4,526.8 L424.4,527.1 L424.5,527.5 L424.5,527.8 L424.5,528.1 L424.5,528.4 L424.6,528.7 L424.6,529.0 L424.6,529.3 L424.6,529.7 L424.6,530.0 L424.6,530.3 Z" fill="#a6a6a6" stroke="none"/>
<circle cx="384.5" cy="527" r="22.5" fill="#fff" stroke="none"/>
<path d="M396,545 L440,538 L440,580 L390,580 Z" fill="#fff" stroke="none"/>
<path d="M356,548 L362,554 L388,545.3 L412,540.6 L426.4,538.6 L426.4,543 L397,545 L392,569 L380,568 Z" fill="#a6a6a6" stroke="none"/>
<path d="M354.5,541.5 C365,537 380,534.8 383.3,534.8 C395,532.5 420,530 466,529 L466,535.2 C430,536.5 400,542 388.1,545.3 C378,548.5 368,551 362.2,554.5 Z" fill="#b2b2b2" stroke="none"/>
<path d="M356.4,544.1 C375,537.9 405,533.6 466,530.2" fill="none" stroke="#f2f2f2" stroke-width="0.9"/>
<path d="M357.8,546.7 C375,540.0 405,535.2 466,531.5" fill="none" stroke="#f2f2f2" stroke-width="0.9"/>
<path d="M359.2,549.3 C375,542.1 405,536.9 466,532.7" fill="none" stroke="#f2f2f2" stroke-width="0.9"/>
<path d="M360.6,551.9 C375,544.2 405,538.6 466,534.0" fill="none" stroke="#f2f2f2" stroke-width="0.9"/>
<text x="391" y="569" font-family="Liberation Serif, serif" font-weight="bold" font-size="36" fill="#8f8f8f" stroke="#fff" stroke-width="2.2" paint-order="stroke" textLength="177.5" lengthAdjust="spacingAndGlyphs">АГРОСНАБ</text>
<text x="391" y="569" font-family="Liberation Serif, serif" font-weight="bold" font-size="36" fill="#8f8f8f" stroke="#8f8f8f" stroke-width="0.6" textLength="177.5" lengthAdjust="spacingAndGlyphs">АГРОСНАБ</text>
<text x="470" y="538.4" font-family="Liberation Serif, serif" font-size="15.5" fill="#8f8f8f" stroke="none" textLength="31.7" lengthAdjust="spacingAndGlyphs">ООО</text>
<path d="M0.3,0.3 L5,9.5 L9.7,0.3 M5,9.5 L5,19.7" transform="translate(646.55,776.80) scale(0.910,0.990)" fill="none" stroke-width="2.03" vector-effect="none"/>
<path d="M0.5,0.5 L9.5,0.5 L0.5,19.5 L9.7,19.5" transform="translate(661.85,776.80) scale(0.910,0.990)" fill="none" stroke-width="2.03" vector-effect="none"/>
<path d="M9.3,0.5 L1.2,0.5 L0.7,8.6 C2,7.6 3.5,7.2 5,7.2 C8,7.2 9.6,9.6 9.6,13.3 C9.6,17.3 7.7,19.6 4.9,19.6 C2.6,19.6 1.1,18.4 0.4,16.6" transform="translate(677.25,776.80) scale(0.910,0.990)" fill="none" stroke-width="2.03" vector-effect="none"/>
<path d="M5,0.4 C8,0.4 9.6,4 9.6,10 C9.6,16 8,19.6 5,19.6 C2,19.6 0.4,16 0.4,10 C0.4,4 2,0.4 5,0.4 Z" transform="translate(692.55,776.80) scale(0.910,0.990)" fill="none" stroke-width="2.03" vector-effect="none"/>
<path d="M0.6,4.8 C0.8,2 2.5,0.4 5,0.4 C7.7,0.4 9.4,2.3 9.4,5.2 C9.4,8.8 6.5,11.4 0.5,19.6 L9.7,19.6" transform="translate(707.35,776.80) scale(0.910,0.990)" fill="none" stroke-width="2.03" vector-effect="none"/>
<path d="M0.3,0.5 L9.6,0.5 C6.5,5.5 4.2,12 3.5,19.8" transform="translate(723.15,776.80) scale(0.910,0.990)" fill="none" stroke-width="2.03" vector-effect="none"/>
<path d="M9,2.6 C8.3,1.1 6.9,0.4 5.2,0.4 C2.2,0.4 0.5,4.2 0.5,10.5 C0.5,16.5 2.2,19.6 5,19.6 C7.8,19.6 9.5,17.3 9.5,13.6 C9.5,10 7.8,8 5.2,8 C2.8,8 1.1,9.6 0.5,12" transform="translate(738.05,776.80) scale(0.910,0.990)" fill="none" stroke-width="2.03" vector-effect="none"/>
<path d="M0.6,4.8 C0.8,2 2.5,0.4 5,0.4 C7.7,0.4 9.4,2.3 9.4,5.2 C9.4,8.8 6.5,11.4 0.5,19.6 L9.7,19.6" transform="translate(752.95,776.80) scale(0.910,0.990)" fill="none" stroke-width="2.03" vector-effect="none"/>
<path d="M0.5,19.8 L0.5,0.5 L5.8,0.5 C8.4,0.5 9.6,2.3 9.6,5.2 C9.6,8.2 8.4,10 5.8,10 L0.5,10" transform="translate(768.35,776.80) scale(0.910,0.990)" fill="none" stroke-width="2.03" vector-effect="none"/>
<path d="M9.6,4.2 C9.2,1.7 7.6,0.4 5.3,0.4 C2.2,0.4 0.5,3.8 0.5,10 C0.5,16.2 2.2,19.6 5.3,19.6 C7.6,19.6 9.2,18.3 9.6,15.8" transform="translate(781.65,776.80) scale(0.910,0.990)" fill="none" stroke-width="2.03" vector-effect="none"/>
<path d="M0.5,0.5 L0.5,19.5 L4.2,19.5 C7.8,19.5 9.6,16 9.6,10 C9.6,4 7.8,0.5 4.2,0.5 Z" transform="translate(797.05,776.80) scale(0.910,0.990)" fill="none" stroke-width="2.03" vector-effect="none"/>
</svg></body></html>
